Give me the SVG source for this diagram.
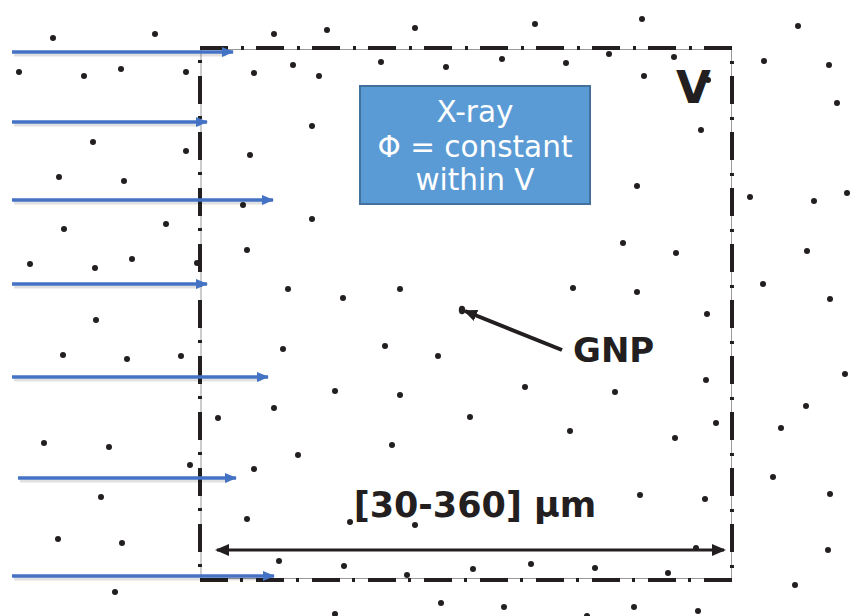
<svg xmlns="http://www.w3.org/2000/svg" width="852" height="616" viewBox="0 0 852 616">
<style>
.dot{fill:#231f20}
.ray{stroke:#4472c4;stroke-width:3.5;fill:none;marker-end:url(#bh)}
.sh{stroke:#000;stroke-opacity:0.12;stroke-width:3;fill:none}
.lbl{font-family:"DejaVu Sans",Verdana,sans-serif;font-weight:bold;fill:#231f20}
.box{font-family:"DejaVu Sans",Verdana,sans-serif;fill:#fff;font-size:29.5px;text-anchor:middle}
</style>
<defs>
<marker id="bh" markerWidth="12" markerHeight="10" refX="11" refY="5" orient="auto" markerUnits="userSpaceOnUse"><path d="M0,0 L12,5 L0,10 Z" fill="#4472c4"/></marker>
<marker id="ke" markerWidth="14" markerHeight="12" refX="12" refY="6" orient="auto" markerUnits="userSpaceOnUse"><path d="M0,0 L14,6 L0,12 Z" fill="#231f20"/></marker>
<marker id="ks" markerWidth="14" markerHeight="12" refX="2" refY="6" orient="auto" markerUnits="userSpaceOnUse"><path d="M14,0 L0,6 L14,12 Z" fill="#231f20"/></marker>
</defs>
<rect width="852" height="616" fill="#fff"/>
<g id="particles">
<circle class="dot" r="3" cx="53" cy="38"/><circle class="dot" r="3" cx="155" cy="34"/><circle class="dot" r="3" cx="274" cy="34"/><circle class="dot" r="3" cx="327" cy="30"/><circle class="dot" r="3" cx="415" cy="28"/><circle class="dot" r="3" cx="535" cy="24"/><circle class="dot" r="3" cx="642" cy="19"/><circle class="dot" r="3" cx="798" cy="26"/>
<circle class="dot" r="3" cx="19" cy="72"/><circle class="dot" r="3" cx="84" cy="76"/><circle class="dot" r="3" cx="121" cy="69"/><circle class="dot" r="3" cx="186" cy="72"/><circle class="dot" r="3" cx="254" cy="73"/><circle class="dot" r="3" cx="293" cy="65"/><circle class="dot" r="3" cx="319" cy="76"/><circle class="dot" r="3" cx="381" cy="62"/><circle class="dot" r="3" cx="446" cy="67"/><circle class="dot" r="3" cx="502" cy="59"/><circle class="dot" r="3" cx="566" cy="63"/><circle class="dot" r="3" cx="609" cy="54"/><circle class="dot" r="3" cx="674" cy="57"/><circle class="dot" r="3" cx="644" cy="76"/><circle class="dot" r="3" cx="708" cy="80"/><circle class="dot" r="3" cx="764" cy="61"/><circle class="dot" r="3" cx="829" cy="65"/><circle class="dot" r="3" cx="837" cy="103"/>
<circle class="dot" r="3" cx="312" cy="126"/><circle class="dot" r="3" cx="701" cy="130"/><circle class="dot" r="3" cx="93" cy="142"/><circle class="dot" r="3" cx="186" cy="151"/><circle class="dot" r="3" cx="250" cy="155"/>
<circle class="dot" r="3" cx="59" cy="177"/><circle class="dot" r="3" cx="124" cy="181"/><circle class="dot" r="3" cx="637" cy="186"/><circle class="dot" r="3" cx="750" cy="197"/><circle class="dot" r="3" cx="814" cy="201"/><circle class="dot" r="3" cx="847" cy="193"/>
<circle class="dot" r="3" cx="243" cy="205"/><circle class="dot" r="3" cx="312" cy="219"/><circle class="dot" r="3" cx="166" cy="224"/><circle class="dot" r="3" cx="64" cy="229"/>
<circle class="dot" r="3" cx="247" cy="250"/><circle class="dot" r="3" cx="623" cy="243"/><circle class="dot" r="3" cx="676" cy="253"/><circle class="dot" r="3" cx="807" cy="251"/><circle class="dot" r="3" cx="30" cy="264"/><circle class="dot" r="3" cx="95" cy="268"/><circle class="dot" r="3" cx="132" cy="259"/><circle class="dot" r="3" cx="197" cy="263"/>
<circle class="dot" r="3" cx="288" cy="289"/><circle class="dot" r="3" cx="343" cy="298"/><circle class="dot" r="3" cx="400" cy="289"/><circle class="dot" r="3" cx="573" cy="288"/><circle class="dot" r="3" cx="637" cy="292"/><circle class="dot" r="3" cx="763" cy="284"/><circle class="dot" r="3" cx="830" cy="299"/><circle class="dot" r="3" cx="707" cy="314"/>
<circle class="dot" r="3" cx="96" cy="320"/>
<circle class="dot" r="3" cx="283" cy="349"/><circle class="dot" r="3" cx="385" cy="346"/><circle class="dot" r="3" cx="438" cy="356"/><circle class="dot" r="3" cx="63" cy="355"/><circle class="dot" r="3" cx="127" cy="359"/><circle class="dot" r="3" cx="181" cy="356"/>
<circle class="dot" r="3" cx="845" cy="374"/><circle class="dot" r="3" cx="706" cy="380"/>
<circle class="dot" r="3" cx="525" cy="387"/><circle class="dot" r="3" cx="615" cy="392"/><circle class="dot" r="3" cx="335" cy="391"/><circle class="dot" r="3" cx="400" cy="395"/>
<circle class="dot" r="3" cx="274" cy="408"/><circle class="dot" r="3" cx="218" cy="418"/><circle class="dot" r="3" cx="470" cy="417"/><circle class="dot" r="3" cx="806" cy="406"/>
<circle class="dot" r="3" cx="570" cy="431"/><circle class="dot" r="3" cx="675" cy="438"/><circle class="dot" r="3" cx="716" cy="423"/><circle class="dot" r="3" cx="781" cy="428"/>
<circle class="dot" r="3" cx="44" cy="443"/><circle class="dot" r="3" cx="109" cy="447"/><circle class="dot" r="3" cx="392" cy="445"/><circle class="dot" r="3" cx="298" cy="455"/>
<circle class="dot" r="3" cx="190" cy="465"/><circle class="dot" r="3" cx="254" cy="469"/><circle class="dot" r="3" cx="773" cy="477"/>
<circle class="dot" r="3" cx="101" cy="497"/><circle class="dot" r="3" cx="640" cy="495"/><circle class="dot" r="3" cx="705" cy="499"/><circle class="dot" r="3" cx="830" cy="494"/>
<circle class="dot" r="3" cx="247" cy="519"/><circle class="dot" r="3" cx="350" cy="522"/><circle class="dot" r="3" cx="415" cy="525"/>
<circle class="dot" r="3" cx="58" cy="539"/><circle class="dot" r="3" cx="122" cy="543"/><circle class="dot" r="3" cx="696" cy="548"/><circle class="dot" r="3" cx="828" cy="550"/>
<circle class="dot" r="3" cx="279" cy="561"/><circle class="dot" r="3" cx="344" cy="566"/><circle class="dot" r="3" cx="407" cy="575"/><circle class="dot" r="3" cx="473" cy="569"/><circle class="dot" r="3" cx="531" cy="564"/><circle class="dot" r="3" cx="595" cy="568"/><circle class="dot" r="3" cx="668" cy="573"/>
<circle class="dot" r="3" cx="795" cy="585"/><circle class="dot" r="3" cx="115" cy="592"/>
<circle class="dot" r="3" cx="441" cy="603"/><circle class="dot" r="3" cx="504" cy="607"/><circle class="dot" r="3" cx="634" cy="607"/><circle class="dot" r="3" cx="698" cy="611"/><circle class="dot" r="3" cx="335" cy="614"/><circle class="dot" r="3" cx="587" cy="616"/>
</g>
<g id="volume">
<rect x="201" y="49.5" width="530.5" height="529" fill="none" stroke="#999" stroke-width="1"/>
<rect x="200" y="48" width="532" height="532" fill="none" stroke="#231f20" stroke-width="4" stroke-dasharray="28 13 3 12"/>
<text class="lbl" x="676" y="103" font-size="45">V</text>
</g>
<g id="gnp">
<ellipse cx="462" cy="310" rx="3.2" ry="4.2" fill="#231f20"/>
<text class="lbl" x="573" y="362" font-size="34">GNP</text>
</g>
<g id="xray-box">
<rect x="360" y="86" width="230" height="118" fill="#5b9bd5" stroke="#41719c" stroke-width="2"/>
<text class="box" x="475" y="122">X-ray</text>
<text class="box" x="475" y="157">Φ = constant</text>
<text class="box" x="475" y="190">within V</text>
</g>
<g id="size-label">
<text class="lbl" x="475" y="517" font-size="35" text-anchor="middle">[30-360] μm</text>
</g>
<g id="connectors">
<line class="sh" x1="14" y1="55" x2="226" y2="55"/>
<line class="sh" x1="14" y1="125" x2="200" y2="125"/>
<line class="sh" x1="14" y1="203" x2="266" y2="203"/>
<line class="sh" x1="14" y1="287" x2="200" y2="287"/>
<line class="sh" x1="14" y1="380" x2="261" y2="380"/>
<line class="sh" x1="20" y1="481" x2="229" y2="481"/>
<line class="sh" x1="14" y1="579" x2="267" y2="579"/>
<line class="ray" x1="12" y1="52" x2="233" y2="52"/>
<line class="ray" x1="12" y1="122" x2="207" y2="122"/>
<line class="ray" x1="12" y1="200" x2="273" y2="200"/>
<line class="ray" x1="12" y1="284" x2="207" y2="284"/>
<line class="ray" x1="12" y1="377" x2="268" y2="377"/>
<line class="ray" x1="18" y1="478" x2="236" y2="478"/>
<line class="ray" x1="12" y1="576" x2="274" y2="576"/>
<line x1="562" y1="350" x2="465" y2="311" stroke="#231f20" stroke-width="4" marker-end="url(#ke)"/>
<line x1="217" y1="550" x2="724" y2="550" stroke="#231f20" stroke-width="3" marker-start="url(#ks)" marker-end="url(#ke)"/>
</g>
</svg>
